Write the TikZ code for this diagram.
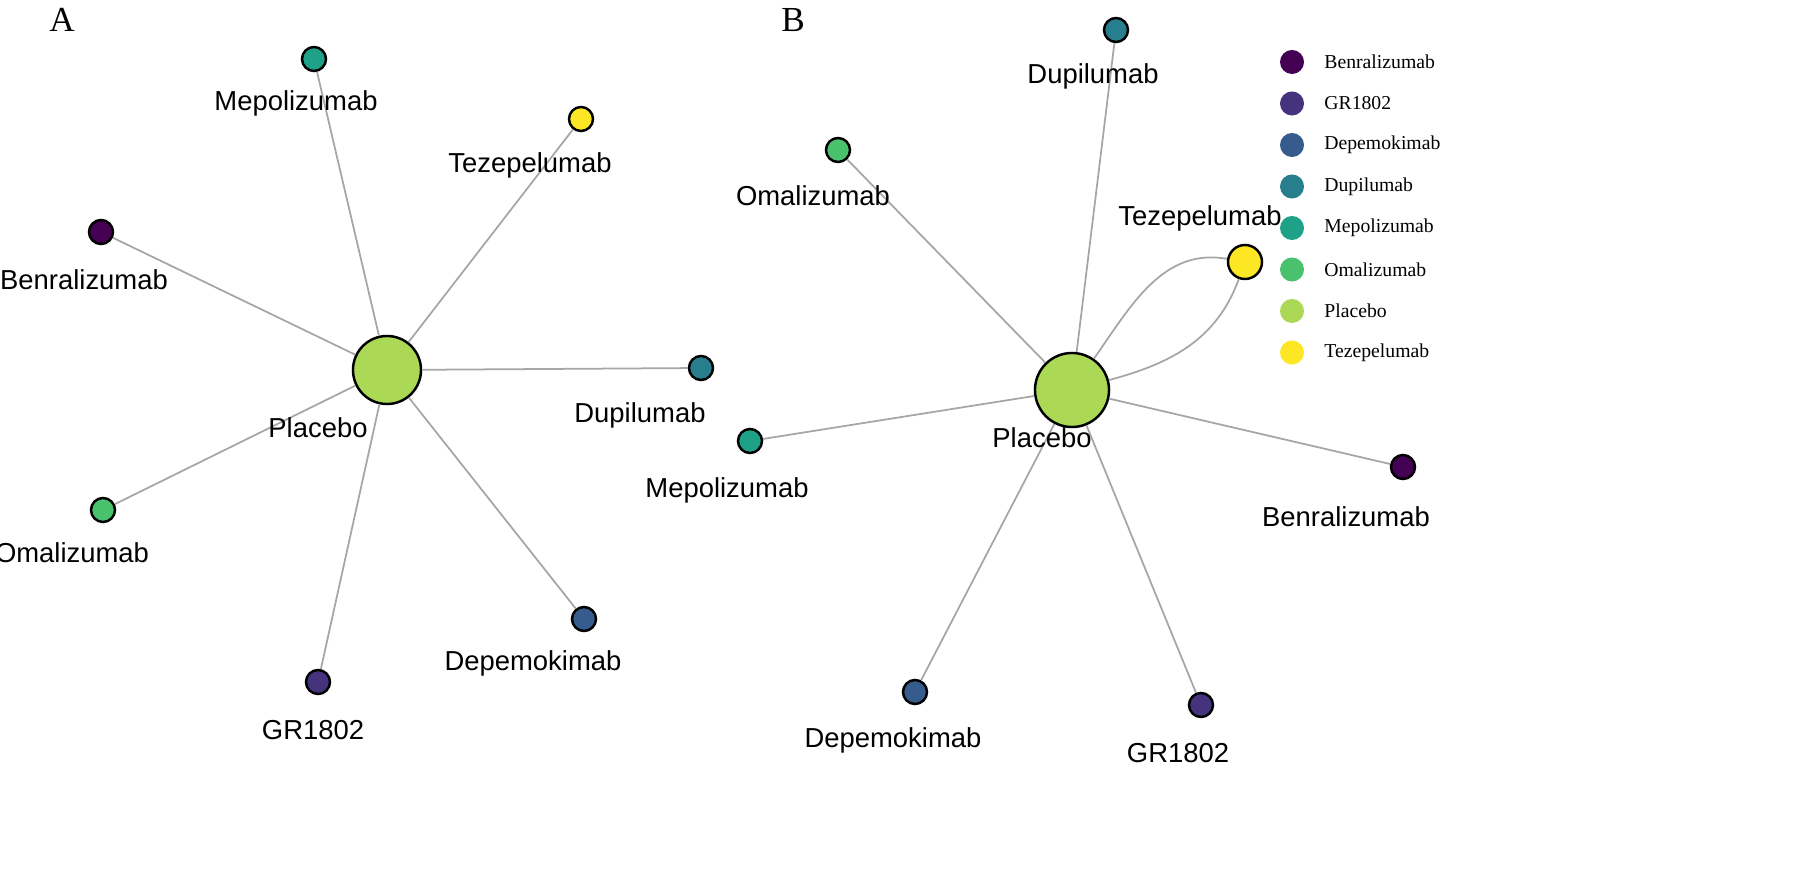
\documentclass[tikz,border=0pt]{standalone}
\usepackage{fontspec}
\setmainfont{Liberation Sans}
\newfontfamily\tms{Liberation Serif}
\begin{document}
\begin{tikzpicture}[x=0.01cm,y=-0.01cm,
 nd/.style={circle,draw=black,line width=0.7pt,inner sep=0pt,minimum size=#1*0.02cm},
 lb/.style={font=\fontsize{7.8pt}{8pt}\selectfont},
 ed/.style={draw=gray!70,line width=0.5pt},
 lg/.style={circle,inner sep=0pt,minimum size=0.24cm},
 lt/.style={anchor=west,font=\tms\fontsize{5.6pt}{6pt}\selectfont}]
\definecolor{cBen}{HTML}{440154}\definecolor{cGR}{HTML}{46337E}
\definecolor{cDep}{HTML}{365C8D}\definecolor{cDup}{HTML}{277F8E}
\definecolor{cMep}{HTML}{1FA187}\definecolor{cOma}{HTML}{4AC16D}
\definecolor{cPla}{HTML}{ABD855}\definecolor{cTez}{HTML}{FDE725}
\useasboundingbox (0,0) rectangle (1808,885);
\node[font=\tms\fontsize{10pt}{10pt}\selectfont] (tA) at (62,20) {A};
\node[font=\tms\fontsize{10pt}{10pt}\selectfont] (tB) at (793,20) {B};
% Panel A
\node[nd=34,fill=cPla] (aP) at (387,370) {};
\node[nd=12,fill=cMep] (aMep) at (314,59) {};
\node[nd=12,fill=cTez] (aTez) at (581,119) {};
\node[nd=12,fill=cBen] (aBen) at (101,232) {};
\node[nd=12,fill=cDup] (aDup) at (701,368) {};
\node[nd=12,fill=cOma] (aOma) at (103,510) {};
\node[nd=12,fill=cDep] (aDep) at (584,619) {};
\node[nd=12,fill=cGR] (aGR) at (318,682) {};
\foreach \n in {aMep,aTez,aBen,aDup,aOma,aDep,aGR} \draw[ed] (aP) -- (\n);
\node[lb] (laMep) at (296,103) {Mepolizumab};
\node[lb] (laTez) at (530,165) {Tezepelumab};
\node[lb] (laBen) at (84,280) {Benralizumab};
\node[lb] (laDup) at (640,415) {Dupilumab};
\node[lb] (laP) at (318,428) {Placebo};
\node[lb] (laOma) at (72,553) {Omalizumab};
\node[lb] (laDep) at (533,663) {Depemokimab};
\node[lb] (laGR) at (313,730) {GR1802};
% Panel B
\node[nd=37,fill=cPla] (bP) at (1072,390) {};
\node[nd=12,fill=cDup] (bDup) at (1116,30) {};
\node[nd=12,fill=cOma] (bOma) at (838,150) {};
\node[nd=17,fill=cTez] (bTez) at (1245,262) {};
\node[nd=12,fill=cMep] (bMep) at (750,441) {};
\node[nd=12,fill=cBen] (bBen) at (1403,467) {};
\node[nd=12,fill=cDep] (bDep) at (915,692) {};
\node[nd=12,fill=cGR] (bGR) at (1201,705) {};
\foreach \n in {bDup,bOma,bMep,bBen,bDep,bGR} \draw[ed] (bP) -- (\n);
\draw[ed] (bP) to[out=55,in=170] (bTez);
\draw[ed] (bP) to[out=15,in=250] (bTez);
\node[lb] (lbDup) at (1093,76) {Dupilumab};
\node[lb] (lbOma) at (813,196) {Omalizumab};
\node[lb] (lbTez) at (1200,218) {Tezepelumab};
\node[lb] (lbP) at (1042,438) {Placebo};
\node[lb] (lbMep) at (727,490) {Mepolizumab};
\node[lb] (lbBen) at (1346,517) {Benralizumab};
\node[lb] (lbDep) at (893,740) {Depemokimab};
\node[lb] (lbGR) at (1178,753) {GR1802};
% Legend
\foreach \c/\t [count=\i from 0] in {cBen/Benralizumab,cGR/GR1802,cDep/Depemokimab,cDup/Dupilumab,cMep/Mepolizumab,cOma/Omalizumab,cPla/Placebo,cTez/Tezepelumab}{
 \node[lg,fill=\c] (lg\i) at (1292,62+41.5*\i) {};
 \node[lt] (lt\i) at (1312,62+41.5*\i) {\t};
}
\end{tikzpicture}
\end{document}
